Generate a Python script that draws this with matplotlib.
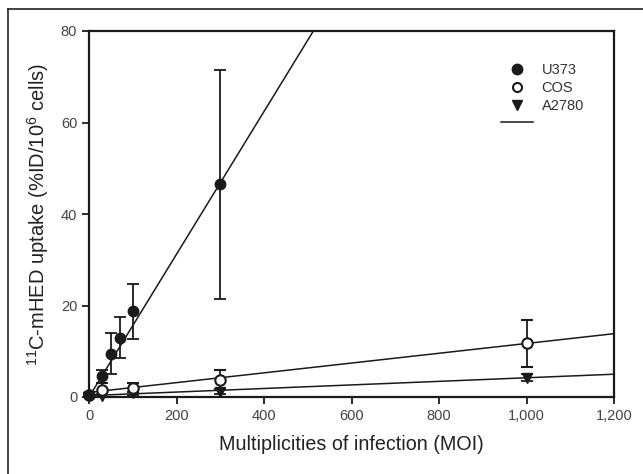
import matplotlib
matplotlib.use("Agg")
import matplotlib.pyplot as plt
from matplotlib.lines import Line2D
from matplotlib.ticker import FuncFormatter
import numpy as np

plt.rcParams['font.family'] = ['Liberation Sans', 'DejaVu Sans']
plt.rcParams['mathtext.fontset'] = 'custom'
plt.rcParams['mathtext.rm'] = 'Liberation Sans'
plt.rcParams['mathtext.it'] = 'Liberation Sans:italic'

# Data
u373_x = [0, 30, 50, 70, 100, 300]
u373_y = [0.5, 4.5, 9.5, 13.0, 18.7, 46.5]
u373_err = [0.3, 1.5, 4.5, 4.5, 6.0, 25.0]

cos_x = [0, 30, 100, 300, 1000]
cos_y = [0.5, 1.5, 2.0, 3.8, 11.7]
cos_err = [0.3, 1.5, 1.0, 2.0, 5.2]

a2780_x = [0, 30, 100, 300, 1000]
a2780_y = [0.3, 0.3, 0.8, 1.2, 4.2]
a2780_err = [0.2, 0.3, 0.4, 0.5, 0.8]

# regression lines (slope, intercept)
u373_fit = (0.156, 0.0)
cos_fit = (0.0107, 1.0)
a2780_fit = (0.0039, 0.3)

xticks = [0, 200, 400, 600, 800, 1000, 1200]
yticks = [0, 20, 40, 60, 80]

fig = plt.figure(figsize=(6.43, 4.74), dpi=100)
# outer border (left and top visible)
fig.add_artist(Line2D([8/643, 8/643], [0, 1 - 9/474], color='#222222', lw=1.2))
fig.add_artist(Line2D([8/643, 1], [1 - 9/474, 1 - 9/474], color='#222222', lw=1.2))

ax = fig.add_axes([89/643, 77/474, (614-89)/643, (397-31)/474])

xx = np.array([0, 1200])
for (m, b) in [u373_fit, cos_fit, a2780_fit]:
    ax.plot(xx, m * xx + b, color='#1a1a1a', lw=1.1, zorder=2)

ekw = dict(ecolor='#1a1a1a', elinewidth=1.3, capsize=4.5, capthick=1.3, ls='none', zorder=3)
ax.errorbar(a2780_x, a2780_y, yerr=a2780_err, fmt='v', color='#1a1a1a', ms=7.5, mfc='#1a1a1a', mec='#1a1a1a', clip_on=False, **ekw)
ax.errorbar(cos_x, cos_y, yerr=cos_err, fmt='o', color='#1a1a1a', ms=7.5, mfc='white', mec='#1a1a1a', mew=1.5, clip_on=False, **ekw)
ax.errorbar(u373_x, u373_y, yerr=u373_err, fmt='o', color='#1a1a1a', ms=7.5, mfc='#1a1a1a', mec='#1a1a1a', clip_on=False, **ekw)

ax.set_xlim(0, 1200)
ax.set_ylim(0, 80)
ax.set_xticks(xticks)
ax.set_yticks(yticks)
ax.xaxis.set_major_formatter(FuncFormatter(lambda v, p: f"{int(v):,}"))
ax.tick_params(direction='out', length=5, width=1.3, colors='#1a1a1a', labelcolor='#444444', labelsize=10.5, top=False, right=False)
for s in ax.spines.values():
    s.set_linewidth(1.6)
    s.set_color('#1a1a1a')

ax.set_xlabel('Multiplicities of infection (MOI)', fontsize=14.2, color='#222222', labelpad=9)
ax.set_ylabel(r'$^{11}$C-mHED uptake (%ID/10$^{6}$ cells)', fontsize=14.5, color='#222222', labelpad=7)

handles = [
    Line2D([], [], marker='o', ls='none', color='#1a1a1a', ms=7.5),
    Line2D([], [], marker='o', ls='none', mfc='white', mec='#1a1a1a', mew=1.5, ms=6.5),
    Line2D([], [], marker='v', ls='none', color='#1a1a1a', ms=7.5),
    Line2D([], [], color='#1a1a1a', lw=1.1),
]
leg = ax.legend(handles, ['U373', 'COS', 'A2780', ''], loc='upper right',
                bbox_to_anchor=(0.968, 0.949), frameon=False, fontsize=10.5,
                handlelength=2.2, labelspacing=0.27, handletextpad=0.6)
for t in leg.get_texts():
    t.set_color('#333333')

fig.savefig('out.png', dpi=100)
